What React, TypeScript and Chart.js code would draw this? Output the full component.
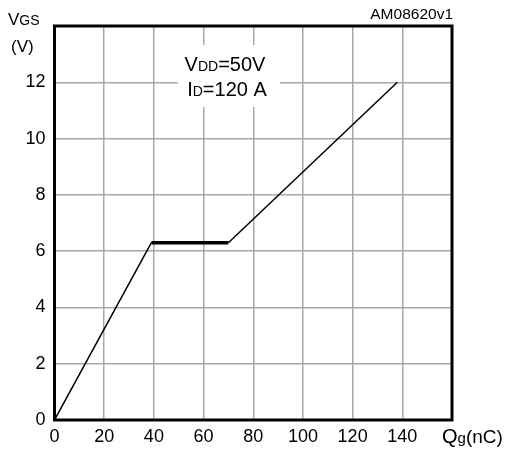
import React, { useEffect, useRef } from "react";
import { Chart, registerables } from "chart.js";

Chart.register(...registerables);

// gate charge curve, Qg (nC) vs VGS (V)
const qg = [0, 39, 70, 138];
const vgs = [0, 6.3, 6.3, 12];
const xTicks = [0, 20, 40, 60, 80, 100, 120, 140];
const yTicks = [0, 2, 4, 6, 8, 10, 12];

const FONT = "'Liberation Sans', Arial, sans-serif";

type Part = [string, number];

const drawParts = (ctx: CanvasRenderingContext2D, parts: Part[], x: number, y: number, align: "left" | "center" = "left") => {
  let w = 0;
  parts.forEach(([t, s]) => {
    ctx.font = `${s}px ${FONT}`;
    w += ctx.measureText(t).width;
  });
  let cx = align === "center" ? x - w / 2 : x;
  ctx.textBaseline = "alphabetic";
  ctx.textAlign = "left";
  parts.forEach(([t, s]) => {
    ctx.font = `${s}px ${FONT}`;
    ctx.fillText(t, cx, y);
    cx += ctx.measureText(t).width;
  });
};

const decor = {
  id: "decor",
  beforeDatasetsDraw(chart: Chart) {
    const ctx = chart.ctx;
    ctx.save();
    ctx.fillStyle = "#fff";
    ctx.fillRect(178, 45, 102, 62);
    ctx.fillStyle = "#000";
    drawParts(ctx, [["V", 20], ["DD", 14], ["=50V", 20]], 225, 71, "center");
    drawParts(ctx, [["I", 20], ["D", 14], ["=120 A", 20]], 227, 96, "center");
    ctx.restore();
  },
  afterDraw(chart: Chart) {
    const ctx = chart.ctx;
    const a = chart.chartArea;
    ctx.save();
    ctx.strokeStyle = "#000";
    ctx.lineWidth = 3;
    ctx.strokeRect(a.left, a.top, a.right - a.left, a.bottom - a.top);
    ctx.fillStyle = "#000";
    drawParts(ctx, [["V", 17], ["GS", 14]], 8, 25);
    drawParts(ctx, [["(V)", 17]], 11, 52);
    drawParts(ctx, [["Q", 20], ["g", 15], ["(nC)", 19]], 442, 443);
    ctx.textAlign = "right";
    ctx.font = `15.5px ${FONT}`;
    ctx.fillText("AM08620v1", a.right + 1, 19);
    ctx.restore();
  },
};

const App = () => {
  const canvasRef = useRef<HTMLCanvasElement>(null);

  useEffect(() => {
    if (!canvasRef.current) return;
    const ctx = canvasRef.current.getContext("2d") as CanvasRenderingContext2D;
    const chart = new Chart(ctx, {
      type: "line",
      data: {
        datasets: [
          {
            data: qg.map((x, i) => ({ x, y: vgs[i] })),
            borderColor: "#000",
            borderWidth: 1.5,
            pointRadius: 0,
            tension: 0,
            segment: {
              borderWidth: (c: any) => (c.p0DataIndex === 1 ? 3.5 : 1.5),
            },
          },
        ],
      },
      options: {
        animation: false,
        responsive: true,
        maintainAspectRatio: false,
        layout: { padding: { left: 0, top: 26, right: 55, bottom: 0 } },
        plugins: { legend: { display: false }, tooltip: { enabled: false } },
        scales: {
          x: {
            type: "linear",
            min: 0,
            max: 160,
            afterFit: (s: any) => {
              s.height = 32;
            },
            afterBuildTicks: (s: any) => {
              s.ticks = [...xTicks, 160].map((v) => ({ value: v }));
            },
            ticks: {
              autoSkip: false,
              maxRotation: 0,
              padding: 6,
              color: "#000",
              font: { family: FONT, size: 18 },
              callback: (v: any) => (xTicks.includes(v) ? String(v) : ""),
            },
            grid: { color: "#a8a8a8", lineWidth: 1.5, drawTicks: false },
            border: { display: false },
          },
          y: {
            min: 0,
            max: 14,
            afterFit: (s: any) => {
              s.width = 54.5;
            },
            afterBuildTicks: (s: any) => {
              s.ticks = [...yTicks, 14].map((v) => ({ value: v }));
            },
            ticks: {
              autoSkip: false,
              padding: 9,
              color: "#000",
              font: { family: FONT, size: 18 },
              callback: (v: any) => (yTicks.includes(v) ? String(v) : ""),
            },
            grid: { color: "#a8a8a8", lineWidth: 1.5, drawTicks: false },
            border: { display: false },
          },
        },
      },
      plugins: [decor],
    });
    return () => {
      chart.destroy();
    };
  }, []);

  return (
    <div style={{ position: "fixed", left: 0, top: 0, width: "507px", height: "452px", background: "#fff" }}>
      <canvas ref={canvasRef} />
    </div>
  );
};

export default App;
